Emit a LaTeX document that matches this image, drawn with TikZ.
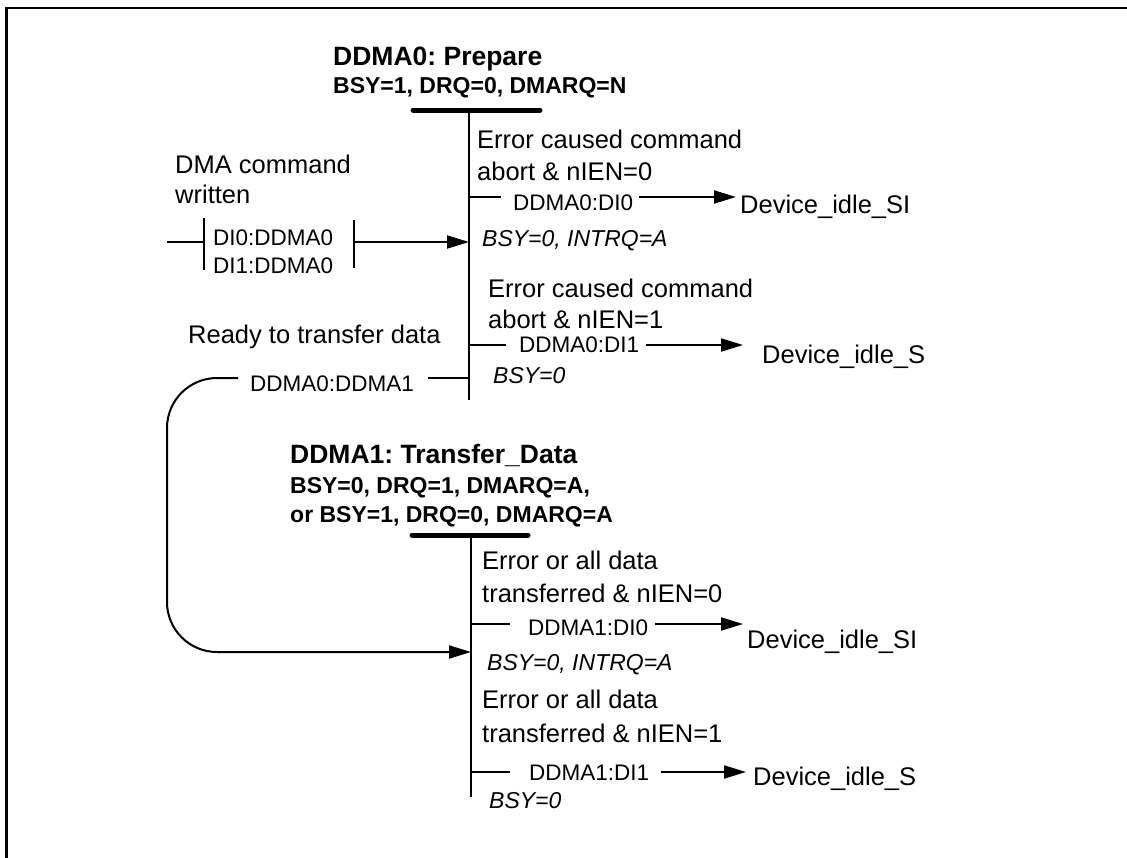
\documentclass[tikz,border=0pt]{standalone}
\usepackage{fontspec}
\setmainfont{Liberation Sans}
\usetikzlibrary{arrows.meta}
\begin{document}
\frenchspacing
\begin{tikzpicture}[x=1bp,y=-1bp,
  every node/.style={inner sep=0pt, anchor=base west},
  big/.style={font=\fontsize{25.5bp}{32bp}\selectfont},
  small/.style={font=\fontsize{22.5bp}{28bp}\selectfont},
  ital/.style={font=\fontsize{23bp}{28bp}\selectfont\itshape},
  ttl/.style={font=\fontsize{26.5bp}{32bp}\selectfont\bfseries},
  sub/.style={font=\fontsize{23bp}{28bp}\selectfont\bfseries},
  ln/.style={line width=2bp},
  statebar/.style={line width=5bp, line cap=round},
  arr/.style={line width=2bp, -{Triangle[length=22bp,width=13bp]}},
]
\useasboundingbox (0,0) rectangle (1127,858);
% frame (top and left edges only)
\draw[line width=2.5bp] (6.5,858) -- (6.5,8) -- (1127,8);

% ---- state DDMA0
\node[ttl] (t0) at (333,65) {DDMA0: Prepare};
\node[sub] (s0) at (333,93) {BSY=1, DRQ=0, DMARQ=N};
\coordinate (b0l) at (413,110);
\coordinate (b0r) at (540,110);
\draw[statebar] (b0l) -- (b0r);
\coordinate (v0t) at (469,110);
\coordinate (v0b) at (469,400);
\draw[ln] (v0t) -- (v0b);

% entry
\node[big] (dmac1) at (175,173) {DMA command};
\node[big] (dmac2) at (175,203) {written};
\node[small] (di0) at (213,245) {DI0:DDMA0};
\node[small] (di1) at (213,273) {DI1:DDMA0};
\coordinate (inS) at (167,242);
\coordinate (barAt) at (204,218);
\coordinate (barAb) at (204,270);
\coordinate (barBt) at (354,220);
\coordinate (barBb) at (354,268);
\coordinate (inM) at (204,242);
\coordinate (inN) at (354,242);
\coordinate (inE) at (469,242);
\draw[ln] (barAt) -- (barAb);
\draw[ln] (barBt) -- (barBb);
\draw[ln] (inS) -- (inM);
\draw[arr] (inN) -- (inE);

% DDMA0:DI0
\node[big] (e1a) at (477,148) {Error caused command};
\node[big] (e1b) at (477,180) {abort \& nIEN=0};
\coordinate (k1a) at (469,197);
\coordinate (k1b) at (501,197);
\draw[ln] (k1a) -- (k1b);
\node[small] (l1) at (513,210) {DDMA0:DI0};
\node[big] (d1) at (740,213) {Device\_idle\_SI};
\coordinate (a1s) at (639,197);
\coordinate (a1e) at (736,197);
\draw[arr] (a1s) -- (a1e);
\node[ital] (c1) at (482,246) {BSY=0, INTRQ=A};

% DDMA0:DI1
\node[big] (e2a) at (488,297) {Error caused command};
\node[big] (e2b) at (488,328) {abort \& nIEN=1};
\coordinate (k2a) at (469,345);
\coordinate (k2b) at (506,345);
\draw[ln] (k2a) -- (k2b);
\node[small] (l2) at (519,352) {DDMA0:DI1};
\node[big] (d2) at (762,363) {Device\_idle\_S};
\coordinate (a2s) at (646,345);
\coordinate (a2e) at (743,345);
\draw[arr] (a2s) -- (a2e);
\node[ital] (c2) at (493,383) {BSY=0};

% DDMA0:DDMA1
\node[big] (r1) at (188,343) {Ready to transfer data};
\node[small] (l5) at (250,391) {DDMA0:DDMA1};
\coordinate (k5a) at (428,378);
\coordinate (k5b) at (469,378);
\draw[ln] (k5a) -- (k5b);
\coordinate (lp1) at (238,378);
\coordinate (lp2) at (167,378);
\coordinate (lp3) at (167,652);
\coordinate (lp4) at (471,652);
\draw[arr, rounded corners=50bp] (lp1) -- (lp2) -- (lp3) -- (lp4);

% ---- state DDMA1
\node[ttl] (t1) at (290,463) {DDMA1: Transfer\_Data};
\node[sub] (s1a) at (290,493) {BSY=0, DRQ=1, DMARQ=A,};
\node[sub] (s1b) at (290,522) {or BSY=1, DRQ=0, DMARQ=A};
\coordinate (b1l) at (412,535);
\coordinate (b1r) at (528,535);
\draw[statebar] (b1l) -- (b1r);
\coordinate (v1t) at (471,535);
\coordinate (v1b) at (471,797);
\draw[ln] (v1t) -- (v1b);

% DDMA1:DI0
\node[big] (e3a) at (482,569) {Error or all data};
\node[big] (e3b) at (482,602) {transferred \& nIEN=0};
\coordinate (k3a) at (471,624);
\coordinate (k3b) at (510,624);
\draw[ln] (k3a) -- (k3b);
\node[small] (l3) at (528,635) {DDMA1:DI0};
\node[big] (d3) at (747,648) {Device\_idle\_SI};
\coordinate (a3s) at (655,624);
\coordinate (a3e) at (743,624);
\draw[arr] (a3s) -- (a3e);
\node[ital] (c3) at (487,670) {BSY=0, INTRQ=A};

% DDMA1:DI1
\node[big] (e4a) at (482,708) {Error or all data};
\node[big] (e4b) at (482,742) {transferred \& nIEN=1};
\coordinate (k4a) at (471,772);
\coordinate (k4b) at (510,772);
\draw[ln] (k4a) -- (k4b);
\node[small] (l4) at (529,780) {DDMA1:DI1};
\node[big] (d4) at (753,785) {Device\_idle\_S};
\coordinate (a4s) at (661,772);
\coordinate (a4e) at (746,772);
\draw[arr] (a4s) -- (a4e);
\node[ital] (c4) at (489,808) {BSY=0};
\end{tikzpicture}
\end{document}
